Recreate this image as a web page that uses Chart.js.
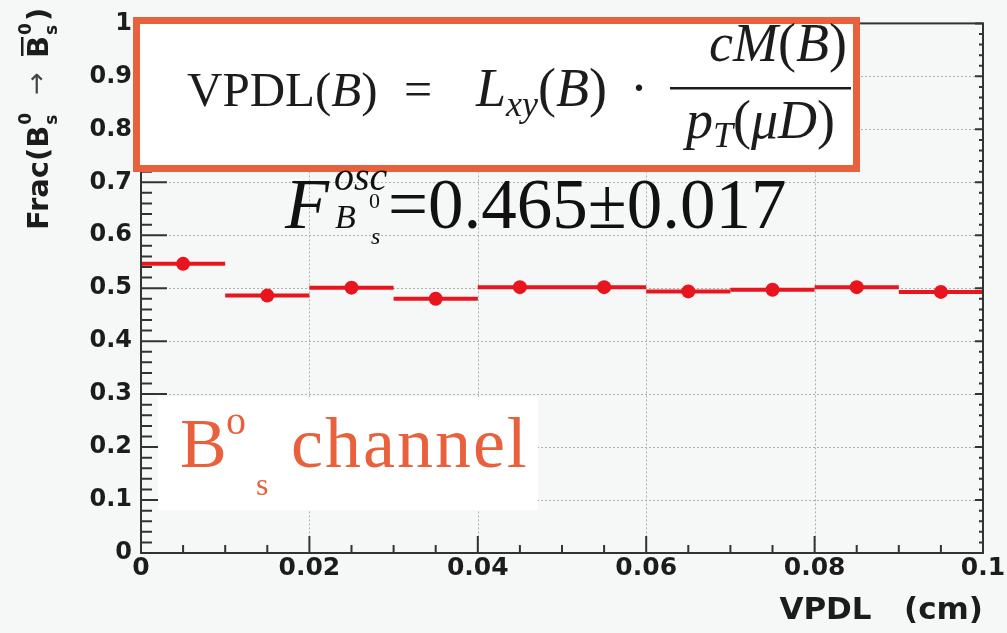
<!DOCTYPE html>
<html>
<head>
<meta charset="utf-8">
<script src="https://cdn.jsdelivr.net/npm/chart.js@4"></script>
<style>
  html, body { margin: 0; padding: 0; background: #f6f8f7; }
  #wrap { width: 1007px; height: 633px; }
</style>
</head>
<body>
<div id="wrap"><canvas id="myChart" width="1007" height="633"></canvas></div>
<script>
// bins of VPDL (cm) and the measured oscillated fraction in each bin
const binEdges = [0, 0.01, 0.02, 0.03, 0.04, 0.05, 0.06, 0.07, 0.08, 0.09, 0.1]
const binCenters = [0.005, 0.015, 0.025, 0.035, 0.045, 0.055, 0.065, 0.075, 0.085, 0.095]
const fracValues = [0.546, 0.486, 0.501, 0.480, 0.502, 0.502, 0.494, 0.497, 0.502, 0.493]

const xTickValues = [0, 0.02, 0.04, 0.06, 0.08, 0.1]
const yTickValues = [0, 0.1, 0.2, 0.3, 0.4, 0.5, 0.6, 0.7, 0.8, 0.9, 1]

const red = '#e8141e'
const ink = '#1c1c1c'
const orange = '#e9603d'
const sans = '"DejaVu Sans", sans-serif'
const serif = '"Liberation Serif", "DejaVu Serif", serif'

// draws a row of text pieces one after another, returns the end x
function runs(ctx, x, y, parts) {
    let cx = x
    parts.forEach(([t, f, dy]) => {
        ctx.font = f
        ctx.fillText(t, cx, y + (dy || 0))
        cx += ctx.measureText(t).width
    })
    return cx
}
function widthOf(ctx, parts) {
    let w = 0
    parts.forEach(([t, f]) => { ctx.font = f; w += ctx.measureText(t).width })
    return w
}

// dotted grid, frame and ROOT style inner ticks
const framePlugin = {
    id: 'frame',
    beforeDatasetsDraw(chart) {
        const {ctx, chartArea: a, scales: {x, y}} = chart
        ctx.save()
        ctx.strokeStyle = '#b0b0b0'
        ctx.lineWidth = 1
        ctx.setLineDash([2, 2])
        xTickValues.slice(1, -1).forEach(v => {
            const px = Math.round(x.getPixelForValue(v)) + 0.5
            ctx.beginPath(); ctx.moveTo(px, a.top); ctx.lineTo(px, a.bottom); ctx.stroke()
        })
        yTickValues.slice(1, -1).forEach(v => {
            const py = Math.round(y.getPixelForValue(v)) + 0.5
            ctx.beginPath(); ctx.moveTo(a.left, py); ctx.lineTo(a.right, py); ctx.stroke()
        })
        ctx.restore()
    },
    afterDatasetsDraw(chart) {
        const {ctx, chartArea: a, scales: {x, y}} = chart
        ctx.save()
        ctx.strokeStyle = '#333'
        ctx.lineWidth = 2
        ctx.strokeRect(a.left, a.top, a.right - a.left, a.bottom - a.top)
        ctx.beginPath()
        for (let i = 0; i <= 20; i++) {
            const px = x.getPixelForValue(i * 0.005)
            const len = i % 4 === 0 ? 17 : 8
            ctx.moveTo(px, a.bottom); ctx.lineTo(px, a.bottom - len)
        }
        for (let i = 0; i <= 50; i++) {
            const py = y.getPixelForValue(i * 0.02)
            const len = i % 5 === 0 ? 26 : 11
            ctx.moveTo(a.left, py); ctx.lineTo(a.left + len, py)
            ctx.moveTo(a.right, py); ctx.lineTo(a.right - (i % 5 === 0 ? 8 : 4), py)
        }
        ctx.stroke()
        ctx.restore()
    }
}

// text boxes drawn on the picture
const notesPlugin = {
    id: 'notes',
    afterDraw(chart) {
        const ctx = chart.ctx
        const R = s => s + 'px ' + serif
        const I = s => 'italic ' + s + 'px ' + serif
        ctx.save()
        ctx.textAlign = 'left'
        ctx.textBaseline = 'alphabetic'

        // y axis title, rotated
        ctx.save()
        ctx.translate(48, 230)
        ctx.rotate(-Math.PI / 2)
        ctx.fillStyle = ink
        const B = 'bold 29px ' + sans
        const S = 'bold 17px ' + sans
        let t = runs(ctx, 0, 0, [['Frac(B', B]])
        runs(ctx, t + 1, -17, [['0', S]])
        runs(ctx, t + 1, 9, [['s', S]])
        t += 15 + 16
        ctx.fillStyle = '#444'
        t = runs(ctx, t, -3, [['\u2192', '27px ' + sans]]) + 14
        ctx.fillStyle = ink
        const bStart = t
        t = runs(ctx, t, 0, [['B', B]])
        ctx.fillRect(bStart + 2, -27, t - bStart - 3, 2.5)
        runs(ctx, t + 1, -17, [['0', S]])
        runs(ctx, t + 1, 9, [['s', S]])
        runs(ctx, t + 15, 0, [[')', B]])
        ctx.restore()

        // formula box
        ctx.fillStyle = '#fff'
        ctx.fillRect(137, 21, 719, 147)
        ctx.strokeStyle = orange
        ctx.lineWidth = 7
        ctx.strokeRect(136.5, 20.5, 720, 148)
        ctx.fillStyle = ink
        runs(ctx, 187, 106, [['VPDL(', R(49)], ['B', I(49)], [')', R(49)]])
        runs(ctx, 404, 106, [['=', R(50)]])
        runs(ctx, 476, 106, [['L', I(54)], ['xy', I(36), 10], ['(', R(54)], ['B', I(54)], [')', R(54)]])
        runs(ctx, 630, 106, [['\u00b7', R(54)]])
        const num = [['cM', I(54)], ['(', R(54)], ['B', I(54)], [')', R(54)]]
        const den = [['p', I(54)], ['T', I(36), 9], ['(', R(54)], ['\u03bcD', I(54)], [')', R(54)]]
        const fx = 670, fw = 181
        runs(ctx, fx + fw - widthOf(ctx, num) - 4, 61, num)
        runs(ctx, fx + (fw - widthOf(ctx, den)) / 2, 138, den)
        ctx.fillRect(fx, 87, fw, 2.5)

        // fitted fraction
        ctx.fillStyle = '#111'
        runs(ctx, 285, 228, [['F', I(72)]])
        runs(ctx, 334, 190, [['osc', I(40)]])
        runs(ctx, 335, 228, [['B', I(34)]])
        runs(ctx, 369, 208, [['0', R(22)]])
        runs(ctx, 371, 244, [['s', I(24)]])
        runs(ctx, 388, 228, [['=0.465\u00b10.017', R(71)]])

        // channel label
        ctx.fillStyle = '#fff'
        ctx.fillRect(158, 397, 380, 113)
        ctx.fillStyle = orange
        runs(ctx, 180, 467, [['B', R(70)]])
        runs(ctx, 226, 434, [['o', R(40)]])
        runs(ctx, 256, 495, [['s', R(32)]])
        ctx.letterSpacing = '2px'
        runs(ctx, 291, 467, [['channel', R(72)]])
        ctx.letterSpacing = '0px'
        ctx.restore()
    }
}

const ctx = document.getElementById('myChart')
const binBars = fracValues.map((v, i) => ({
    type: 'line',
    label: 'bin ' + (i + 1),
    data: [{x: binEdges[i], y: v}, {x: binEdges[i + 1], y: v}],
    borderColor: red,
    borderWidth: 4,
    pointRadius: 0,
    fill: false,
    order: 2
}))

new Chart(ctx, {
    type: 'scatter',
    data: {
        datasets: [{
            label: 'Frac',
            data: binCenters.map((x, i) => ({x: x, y: fracValues[i]})),
            backgroundColor: red,
            borderColor: red,
            borderWidth: 0,
            pointRadius: 7,
            pointHoverRadius: 7,
            order: 1
        }, ...binBars]
    },
    options: {
        responsive: false,
        animation: false,
        events: [],
        layout: { padding: { top: 13, right: 24, left: 0, bottom: 0 } },
        plugins: { legend: { display: false }, tooltip: { enabled: false } },
        scales: {
            x: {
                type: 'linear',
                min: 0,
                max: 0.1,
                afterBuildTicks: s => { s.ticks = xTickValues.map(v => ({value: v})) },
                afterFit: s => { s.height = 80 },
                grid: { display: false, drawTicks: false },
                border: { display: false },
                ticks: {
                    font: { family: sans, weight: 'bold', size: 25 },
                    color: ink,
                    padding: 0,
                    maxRotation: 0,
                    autoSkip: false,
                    callback: v => String(v)
                },
                title: {
                    display: true,
                    text: 'VPDL   (cm)',
                    align: 'end',
                    color: ink,
                    font: { family: sans, weight: 'bold', size: 31 },
                    padding: { top: 0, bottom: 3 }
                }
            },
            y: {
                min: 0,
                max: 1,
                afterBuildTicks: s => { s.ticks = yTickValues.map(v => ({value: v})) },
                afterFit: s => { s.width = 141 },
                grid: { display: false, drawTicks: false },
                border: { display: false },
                ticks: {
                    font: { family: sans, weight: 'bold', size: 24 },
                    color: ink,
                    padding: 9,
                    autoSkip: false,
                    callback: v => String(v)
                }
            }
        }
    },
    plugins: [framePlugin, notesPlugin]
})
</script>
</body>
</html>
